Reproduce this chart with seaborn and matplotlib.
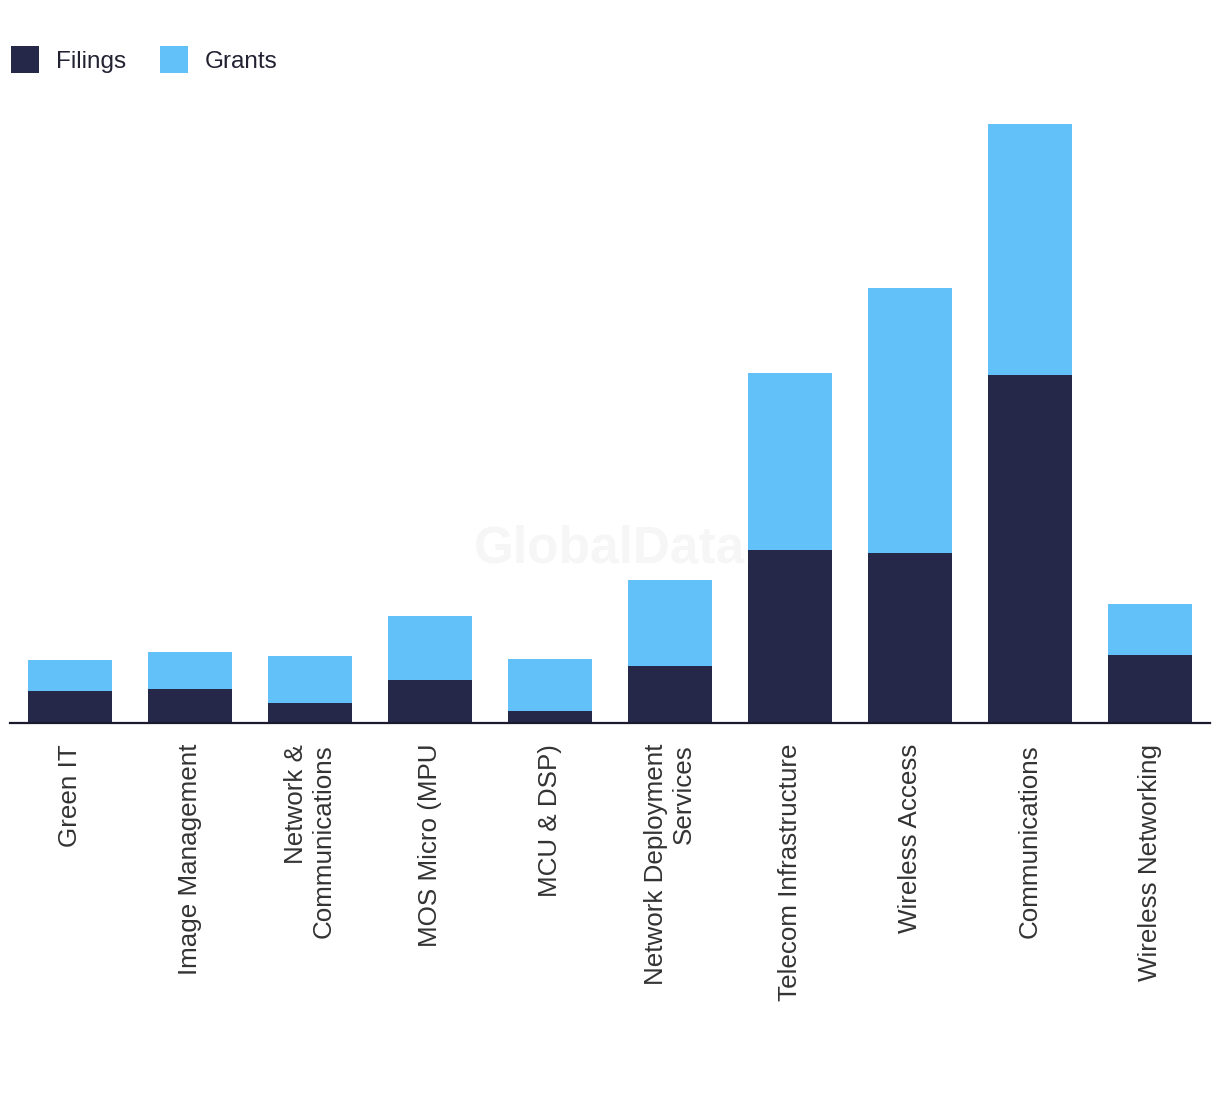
import matplotlib
matplotlib.use("Agg")
import matplotlib.pyplot as plt
from matplotlib.patches import Patch
import seaborn as sns
import numpy as np

categories = ["Green IT", "Image Management", "Network &\nCommunications", "MOS Micro (MPU",
              "MCU & DSP)", "Network Deployment\nServices", "Telecom Infrastructure",
              "Wireless Access", "Communications", "Wireless Networking"]
filings = [32, 34, 20, 43, 12, 57, 173, 170, 348, 68]
grants = [31, 37, 47, 64, 52, 86, 177, 265, 251, 51]

dark = "#262849"
light = "#62C1F9"

sns.set_theme(style="white")
plt.rcParams['font.family'] = ['Liberation Sans', 'DejaVu Sans']

fig = plt.figure(figsize=(12.2, 10.94), dpi=100)
ax = fig.add_axes([10/1220, (1094-723)/1094, 1200/1220, 623/1094])

totals = np.array(filings) + np.array(grants)
sns.barplot(x=categories, y=totals, color=light, saturation=1, width=0.7, ax=ax,
            zorder=2, edgecolor="none", linewidth=0)
sns.barplot(x=categories, y=filings, color=dark, saturation=1, width=0.7, ax=ax,
            zorder=3, edgecolor="none", linewidth=0)

ax.set_xlim(-0.5, 9.5)
ax.set_ylim(0, 623)
for s in ["top", "right", "left"]:
    ax.spines[s].set_visible(False)
ax.spines["bottom"].set_color("#1a1a2e")
ax.spines["bottom"].set_linewidth(1.6)
ax.spines["bottom"].set_zorder(5)
ax.set_yticks([])
ax.set_xlabel("")
ax.set_ylabel("")
ax.tick_params(axis="x", length=0, pad=15, labelsize=18.7, labelcolor="#333333")
for lbl in ax.get_xticklabels():
    lbl.set_rotation(90)
    lbl.set_ha("center")
    lbl.set_va("top")
    lbl.set_multialignment("right")

ax.text(0.5, 0.28, "GlobalData", transform=ax.transAxes, ha="center", va="center",
        fontsize=37, fontweight="bold", color="#f6f6f6", zorder=0)

handles = [Patch(facecolor=dark, edgecolor="none", label="Filings"),
           Patch(facecolor=light, edgecolor="none", label="Grants")]
fig.legend(handles=handles, loc="upper left", bbox_to_anchor=(-11/1220, 1 - 24/1094),
           ncol=2, frameon=False, fontsize=17.5, handlelength=1.15, handleheight=1.35,
           handletextpad=0.7, columnspacing=1.4, labelcolor="#222233")

fig.savefig("out.png", dpi=100)
